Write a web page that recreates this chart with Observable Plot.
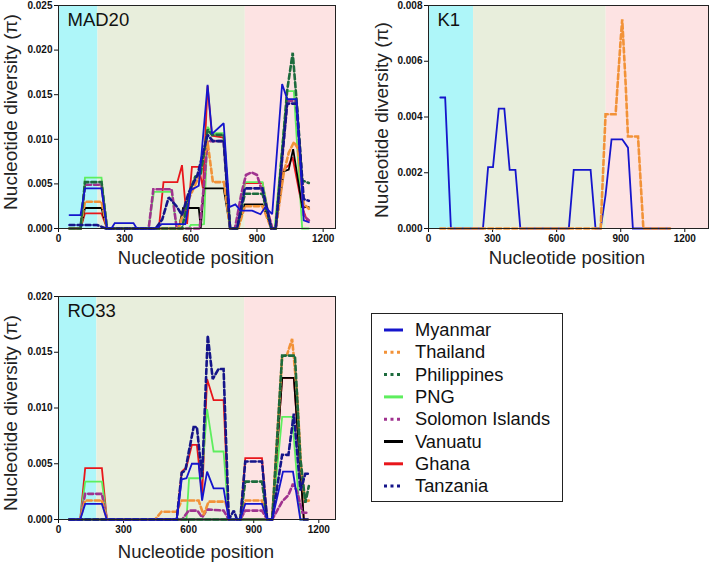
<!DOCTYPE html>
<html>
<head>
<meta charset="utf-8">
<script src="https://cdn.jsdelivr.net/npm/d3@7"></script>
<script src="https://cdn.jsdelivr.net/npm/@observablehq/plot@0.6"></script>
<style>
  html, body { margin: 0; padding: 0; background: #fff; }
  #root { position: relative; width: 709px; height: 562px; overflow: hidden; font-family: "Liberation Sans", Arial, sans-serif; }
  .panel { position: absolute; }
  .title { position: absolute; font-size: 18.5px; color: #222; white-space: nowrap; text-align: center; line-height: 22px; height: 22px; }
  .legend { position: absolute; border: 1px solid #222; box-sizing: border-box; }
  .lg { position: absolute; font-size: 18.3px; color: #111; line-height: 22px; height: 22px; white-space: nowrap; }
</style>
</head>
<body>
<div id="root"></div>
<script>
// ---------------- data ----------------
const COUNTRIES = ["Myanmar", "Thailand", "Philippines", "PNG", "Solomon Islands", "Vanuatu", "Ghana", "Tanzania"];
const COLORS = ["#1515cc", "#f29238", "#1d6b3d", "#5eee5e", "#a0338f", "#000000", "#e8161b", "#15158a"];
const DASHED = [false, true, true, false, true, false, false, true];
const DRAW_ORDER = [6, 3, 5, 4, 1, 2, 7, 0];
const K1_DRAW_ORDER = [0, 1];

const X_TICKS = [0, 300, 600, 900, 1200];
const MAD20_Y_TICKS = [0, 0.005, 0.01, 0.015, 0.02, 0.025];
const K1_Y_TICKS = [0, 0.002, 0.004, 0.006, 0.008];
const RO33_Y_TICKS = [0, 0.005, 0.01, 0.015, 0.02];

// region boundaries (nucleotide position) per panel: block 1 | block 2 | block 3
const MAD20_REGIONS = [0, 179, 847, 1256];
const K1_REGIONS = [0, 211, 832, 1311];
const RO33_REGIONS = [0, 177, 858, 1277];
const REGION_COLORS = ["#aef6f9", "#e8eedc", "#fde3e3"];

// MAD20 — [position, pi]
const MAD20_Myanmar = [[50,.0015],[100,.0015],[120,.0045],[195,.0045],[220,0],[240,0],[255,.0006],[340,.0006],[355,0],[445,0],[468,.0005],[575,.0005],[600,.0043],[636,.0048],[676,.0161],[696,.0106],[749,.0118],[775,.0024],[802,.0027],[825,.002],[878,.002],[916,.0016],[938,.0024],[969,.0016],[1014,.0162],[1037,.0145],[1079,.0145],[1112,.0009],[1135,.0007]];
const MAD20_Thailand = [[50,0],[100,0],[120,.003],[195,.003],[220,0],[545,0],[575,.0025],[600,.0038],[636,.0058],[676,.0097],[700,.0052],[750,.0052],[778,0],[815,0],[845,.0025],[925,.0025],[965,0],[985,0],[1021,.0062],[1044,.0085],[1068,.0097],[1085,.009],[1112,.0028],[1135,.0022]];
const MAD20_Philippines = [[50,0],[100,0],[120,.0052],[195,.0052],[220,0],[560,0],[598,.0043],[620,.0058],[645,.0061],[676,.0111],[696,.0105],[749,.0105],[778,0],[810,0],[845,.0039],[925,.0039],[965,0],[985,0],[1037,.0155],[1062,.0197],[1082,.0136],[1105,.0054],[1135,.0051]];
const MAD20_PNG = [[50,0],[100,0],[120,.0057],[195,.0057],[220,0],[407,0],[433,.0041],[513,.0041],[536,0],[590,0],[600,.0004],[645,.0004],[660,.0005],[676,.0114],[696,.0107],[749,.0107],[779,0],[810,0],[845,.0052],[925,.0052],[965,0],[980,0],[1037,.0154],[1067,.0154],[1105,0],[1135,0]];
const MAD20_Solomon = [[50,0],[100,0],[120,.0049],[195,.0049],[220,0],[409,0],[430,.0044],[513,.0044],[536,0],[640,0],[660,.005],[676,.0098],[749,.0098],[778,0],[800,0],[830,.004],[850,.006],[875,.0063],[900,.006],[925,.004],[970,0],[985,0],[1037,.0143],[1079,.0143],[1112,.0015],[1135,.0009]];
const MAD20_Vanuatu = [[50,0],[100,0],[120,.0023],[195,.0023],[220,0],[545,0],[565,.0023],[636,.0023],[645,0],[659,.0045],[749,.0045],[779,0],[810,0],[845,.0027],[925,.0027],[965,0],[985,0],[1021,.0064],[1044,.0066],[1064,.0089],[1105,.0024],[1135,.0024]];
const MAD20_Ghana = [[50,0],[100,0],[120,.0017],[195,.0017],[220,0],[455,0],[476,.0052],[539,.0052],[560,.0071],[583,.0005],[605,.0069],[636,.0069],[655,.0045],[676,.016],[696,.0104],[749,.0102],[779,0],[810,0],[845,.0051],[925,.0051],[965,0],[985,0],[1021,.0066],[1044,.0071],[1061,.008],[1105,.0024],[1127,.0009],[1135,.0009]];
const MAD20_Tanzania = [[50,.0004],[175,.0004],[215,0],[440,0],[470,.001],[500,.0035],[535,.0025],[560,.0015],[590,.004],[630,.006],[676,.0105],[700,.0098],[749,.0098],[778,0],[810,0],[845,.0045],[925,.0045],[965,0],[985,0],[1037,.014],[1079,.014],[1112,.0033],[1135,.0031]];

// K1
const K1_Myanmar = [[55,.0047],[78,.0047],[105,0],[255,0],[279,.0022],[302,.0022],[329,.0043],[355,.0043],[380,.0021],[407,.0021],[430,0],[657,0],[680,.0021],[759,.0021],[782,0],[806,0],[829,.0012],[857,.0032],[907,.0032],[934,.0029],[957,0],[1130,0]];
const K1_Thailand = [[55,0],[806,0],[829,.0041],[876,.0041],[900,.0068],[907,.0075],[923,.0052],[934,.0033],[981,.0033],[1006,0],[1131,0]];

// RO33
const RO33_Myanmar = [[50,0],[100,0],[123,.0014],[200,.0014],[223,0],[545,0],[568,.0036],[590,.0037],[615,.005],[646,.005],[662,.0017],[685,.0043],[715,.0028],[761,.0028],[785,0],[838,0],[861,.0014],[938,.0014],[962,0],[985,0],[1035,.0043],[1081,.0043],[1115,0],[1150,0]];
const RO33_Thailand = [[50,0],[100,0],[123,.0017],[200,.0017],[223,0],[445,0],[475,.0007],[545,.0007],[568,.0017],[646,.0017],[669,.0004],[692,.0016],[769,.0016],[792,0],[838,0],[861,.0017],[938,.0017],[962,0],[985,0],[1031,.0146],[1054,.0148],[1077,.0162],[1100,.0113],[1119,.0044],[1138,.0016],[1154,.0017]];
const RO33_Philippines = [[50,0],[838,0],[861,.0034],[938,.0034],[962,0],[985,0],[1031,.0147],[1090,.0147],[1115,.0055],[1138,.0015],[1154,.003]];
const RO33_PNG = [[50,0],[100,0],[123,.0034],[200,.0034],[223,0],[590,0],[602,.0037],[660,.0037],[685,.0099],[715,.0061],[761,.0061],[785,0],[985,0],[1031,.0092],[1077,.0092],[1115,0],[1150,0]];
const RO33_Solomon = [[50,0],[100,0],[123,.0023],[200,.0023],[223,0],[570,0],[600,.0008],[640,.0008],[662,.0002],[685,.0009],[761,.0008],[785,0],[838,0],[861,.0008],[938,.0008],[962,0],[985,0],[1031,.0016],[1060,.0022],[1081,.0032],[1100,.0025],[1125,.0006],[1150,.0006]];
const RO33_Vanuatu = [[50,0],[985,0],[1031,.0127],[1085,.0127],[1131,0],[1150,0]];
const RO33_Ghana = [[50,0],[100,0],[123,.0046],[200,.0046],[223,0],[545,0],[568,.0043],[590,.0047],[615,.0067],[638,.0067],[662,.0022],[685,.0126],[715,.0107],[761,.0107],[785,0],[838,0],[861,.0055],[938,.0055],[962,0],[985,0],[1031,.0127],[1085,.0127],[1131,0],[1150,0]];
const RO33_Tanzania = [[50,0],[545,0],[568,.0042],[585,.0044],[600,.006],[623,.0083],[638,.0083],[662,.0038],[688,.0165],[711,.0126],[738,.0135],[761,.0135],[785,0],[808,.0008],[823,0],[838,0],[861,.0052],[938,.0052],[962,0],[985,0],[1031,.0058],[1060,.0058],[1085,.0095],[1115,.0026],[1138,.0041],[1154,.0041]];

const MAD20_SERIES = [MAD20_Myanmar, MAD20_Thailand, MAD20_Philippines, MAD20_PNG, MAD20_Solomon, MAD20_Vanuatu, MAD20_Ghana, MAD20_Tanzania];
const K1_SERIES = [K1_Myanmar, K1_Thailand, null, null, null, null, null, null];
const RO33_SERIES = [RO33_Myanmar, RO33_Thailand, RO33_Philippines, RO33_PNG, RO33_Solomon, RO33_Vanuatu, RO33_Ghana, RO33_Tanzania];

// ---------------- drawing ----------------
const FONT = "'Liberation Sans', Arial, sans-serif";
const root = document.getElementById("root");

function panel({title, series, regions, yTicks, order, left, top, width, height, mL, mR, mT, mB}) {
  const regionRows = REGION_COLORS.map((c, i) => ({x1: regions[i], x2: regions[i + 1], c}));
  const marks = regionRows.map(r => Plot.rect([r], {x1: "x1", x2: "x2", fill: r.c}));
  for (const i of order) {
    const pts = series[i];
    if (!pts) continue;
    const rows = pts.map(([x, y]) => ({x, y, country: COUNTRIES[i]}));
    marks.push(Plot.line(rows, {
      x: "x", y: "y", stroke: COLORS[i],
      strokeWidth: DASHED[i] ? 2.6 : 1.8,
      strokeDasharray: DASHED[i] ? "5,3" : null,
      strokeLinejoin: "miter", strokeMiterlimit: 2, curve: "linear"
    }));
  }
  marks.push(Plot.frame({stroke: "#222", strokeWidth: 1}));
  marks.push(Plot.text([title], {
    text: d => d, frameAnchor: "top-left", dx: 9, dy: 7, textAnchor: "start", lineAnchor: "top",
    fontSize: 18.5, fontWeight: "normal", fill: "#111"
  }));
  const svg = Plot.plot({
    width, height, marginLeft: mL, marginRight: mR, marginTop: mT, marginBottom: mB,
    x: {domain: [regions[0], regions[3]], ticks: X_TICKS, tickFormat: d => String(d), label: null, tickSize: 4, tickPadding: 2},
    y: {domain: [yTicks[0], yTicks[yTicks.length - 1]], ticks: yTicks, tickFormat: d3.format(".3f"), label: null, tickSize: 4, tickPadding: 2},
    style: {fontFamily: FONT, fontSize: "10px", fontWeight: "bold", color: "#111", background: "transparent", overflow: "visible"},
    marks
  });
  const wrap = document.createElement("div");
  wrap.className = "panel";
  wrap.style.left = left + "px";
  wrap.style.top = top + "px";
  wrap.appendChild(svg);
  root.appendChild(wrap);
}

function label(text, cx, cy, rotate) {
  const d = document.createElement("div");
  d.className = "title";
  d.textContent = text;
  const w = 260;
  d.style.width = w + "px";
  d.style.left = (cx - w / 2) + "px";
  d.style.top = (cy - 11) + "px";
  if (rotate) { d.style.transform = "rotate(-90deg)"; d.style.fontSize = "19px"; }
  root.appendChild(d);
}

panel({title: "MAD20", series: MAD20_SERIES, regions: MAD20_REGIONS, yTicks: MAD20_Y_TICKS, order: DRAW_ORDER,
  left: 0, top: 0, width: 345, height: 270, mL: 58, mR: 10, mT: 5, mB: 42});
panel({title: "K1", series: K1_SERIES, regions: K1_REGIONS, yTicks: K1_Y_TICKS, order: K1_DRAW_ORDER,
  left: 360, top: 0, width: 349, height: 270, mL: 68, mR: 1, mT: 5, mB: 42});
panel({title: "RO33", series: RO33_SERIES, regions: RO33_REGIONS, yTicks: RO33_Y_TICKS, order: DRAW_ORDER,
  left: 0, top: 280, width: 345, height: 262, mL: 58, mR: 10, mT: 16, mB: 23});

label("Nucleotide position", 196, 258, false);
label("Nucleotide position", 567, 258, false);
label("Nucleotide position", 196, 552, false);
label("Nucleotide diversity (\u03C0)", 11, 112, true);
label("Nucleotide diversity (\u03C0)", 382, 120, true);
label("Nucleotide diversity (\u03C0)", 11, 413, true);

// legend
const lg = document.createElement("div");
lg.className = "legend";
lg.style.left = "371px"; lg.style.top = "313px"; lg.style.width = "192px"; lg.style.height = "189px";
root.appendChild(lg);
const NS = "http://www.w3.org/2000/svg";
const sw = document.createElementNS(NS, "svg");
sw.setAttribute("width", "709"); sw.setAttribute("height", "562");
sw.style.position = "absolute"; sw.style.left = "0"; sw.style.top = "0"; sw.style.pointerEvents = "none";
root.appendChild(sw);
COUNTRIES.forEach((name, i) => {
  const cy = 330 + i * 22.3;
  const ln = document.createElementNS(NS, "line");
  ln.setAttribute("x1", 384); ln.setAttribute("x2", 403);
  ln.setAttribute("y1", cy); ln.setAttribute("y2", cy);
  ln.setAttribute("stroke", COLORS[i]);
  ln.setAttribute("stroke-width", 3);
  if (DASHED[i]) ln.setAttribute("stroke-dasharray", "3,3.5");
  sw.appendChild(ln);
  const t = document.createElement("div");
  t.className = "lg";
  t.textContent = name;
  t.style.left = "415px";
  t.style.top = (cy - 11) + "px";
  root.appendChild(t);
});
</script>
</body>
</html>
